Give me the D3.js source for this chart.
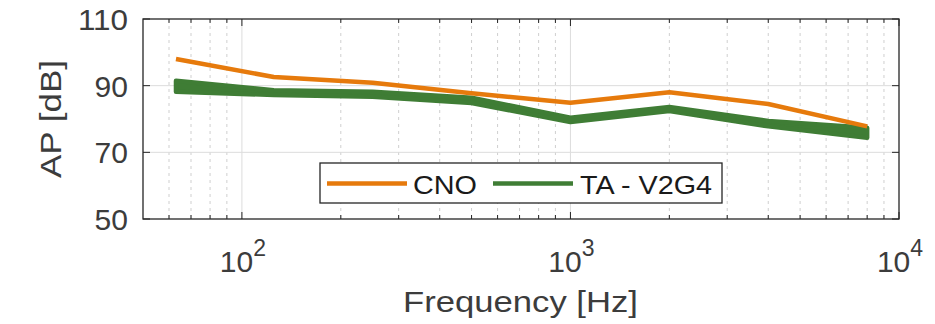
<!DOCTYPE html>
<html>
<head>
<meta charset="utf-8">
<script src="https://cdn.jsdelivr.net/npm/d3@7"></script>
<style>
  body { margin: 0; background: #fff; }
  svg { display: block; font-family: Arial, "Liberation Sans", Helvetica, sans-serif; }
</style>
</head>
<body>
<svg id="chart" width="935" height="324"></svg>
<script>
// octave band centres and measured levels
const freqs = [63, 125, 250, 500, 1000, 2000, 4000, 8000];
const cno = [98.0, 92.6, 90.9, 87.7, 84.9, 88.0, 84.5, 77.8];
const taHigh = [91.5, 88.6, 88.2, 86.4, 80.4, 83.6, 79.4, 77.4];
const taLow = [88.2, 87.2, 86.7, 84.8, 79.1, 82.4, 77.8, 74.4];
const seriesNames = ["CNO", "TA - V2G4"];
const yTicks = [50, 70, 90, 110];
const xTicks = [100, 1000, 10000];

const orange = "#e67a0c",
      green = "#3f7d35",
      axisColor = "#262626",
      textColor = "#3c3c3c";

const svg = d3.select("#chart");
const plotLeft = 143, plotRight = 899, plotTop = 19, plotBottom = 219;

const x = d3.scaleLog().domain([50, 10000]).range([plotLeft, plotRight]);
const y = d3.scaleLinear().domain([50, 110]).range([plotBottom, plotTop]);

// minor log ticks (2..9 of every decade inside the domain)
let minor = [];
[10, 100, 1000].forEach(dec => {
  for (let m = 2; m <= 9; m++) {
    let v = dec * m;
    if (v > 50 && v < 10000) minor.push(v);
  }
});
minor = minor.filter(v => !xTicks.includes(v));

const grid = svg.append("g");

grid.selectAll(".minor")
  .data(minor)
  .enter().append("line")
  .attr("x1", d => x(d)).attr("x2", d => x(d))
  .attr("y1", plotTop).attr("y2", plotBottom)
  .attr("stroke", "#cfcfcf")
  .attr("stroke-width", 1)
  .attr("stroke-dasharray", "3,4");

grid.selectAll(".xmajor")
  .data(xTicks.filter(d => d < 10000))
  .enter().append("line")
  .attr("x1", d => x(d)).attr("x2", d => x(d))
  .attr("y1", plotTop).attr("y2", plotBottom)
  .attr("stroke", "#dcdcdc")
  .attr("stroke-width", 1);

grid.selectAll(".ymajor")
  .data(yTicks.slice(1, -1))
  .enter().append("line")
  .attr("x1", plotLeft).attr("x2", plotRight)
  .attr("y1", d => y(d)).attr("y2", d => y(d))
  .attr("stroke", "#dcdcdc")
  .attr("stroke-width", 1);

// green band: spread between the TA lines
const band = d3.area()
  .x((d, i) => x(freqs[i]))
  .y0((d, i) => y(taLow[i]))
  .y1((d, i) => y(taHigh[i]));

svg.append("path")
  .datum(freqs)
  .attr("d", band)
  .attr("fill", green)
  .attr("stroke", green)
  .attr("stroke-width", 4.5)
  .attr("stroke-linejoin", "round");

const line = d3.line()
  .x((d, i) => x(freqs[i]))
  .y(d => y(d));

svg.append("path")
  .datum(cno)
  .attr("d", line)
  .attr("fill", "none")
  .attr("stroke", orange)
  .attr("stroke-width", 4.5)
  .attr("stroke-linejoin", "round");

// axes box
svg.append("rect")
  .attr("x", plotLeft).attr("y", plotTop)
  .attr("width", plotRight - plotLeft).attr("height", plotBottom - plotTop)
  .attr("fill", "none")
  .attr("stroke", axisColor)
  .attr("stroke-width", 1.3);

const ticks = svg.append("g").attr("stroke", axisColor).attr("stroke-width", 1);

yTicks.forEach(t => {
  ticks.append("line").attr("x1", plotLeft).attr("x2", plotLeft + 7).attr("y1", y(t)).attr("y2", y(t));
  ticks.append("line").attr("x1", plotRight).attr("x2", plotRight - 7).attr("y1", y(t)).attr("y2", y(t));
});
xTicks.forEach(t => {
  ticks.append("line").attr("x1", x(t)).attr("x2", x(t)).attr("y1", plotBottom).attr("y2", plotBottom - 7);
  ticks.append("line").attr("x1", x(t)).attr("x2", x(t)).attr("y1", plotTop).attr("y2", plotTop + 7);
});
minor.forEach(t => {
  ticks.append("line").attr("x1", x(t)).attr("x2", x(t)).attr("y1", plotBottom).attr("y2", plotBottom - 4);
  ticks.append("line").attr("x1", x(t)).attr("x2", x(t)).attr("y1", plotTop).attr("y2", plotTop + 4);
});

// tick labels
svg.selectAll(".ylab")
  .data(yTicks)
  .enter().append("text")
  .attr("x", plotLeft - 15)
  .attr("y", d => y(d) + 11)
  .attr("text-anchor", "end")
  .attr("font-size", 30)
  .attr("fill", textColor)
  .attr("textLength", d => String(d).length * 16.7)
  .attr("lengthAdjust", "spacingAndGlyphs")
  .text(d => d);

const xl = svg.selectAll(".xlab")
  .data(xTicks)
  .enter().append("text")
  .attr("x", d => x(d) + 1)
  .attr("y", 272)
  .attr("text-anchor", "middle")
  .attr("font-size", 30)
  .attr("fill", textColor);
xl.append("tspan").text("10");
xl.append("tspan")
  .attr("font-size", 23)
  .attr("dy", -16)
  .text(d => Math.round(Math.log10(d)));

// axis titles
svg.append("text")
  .attr("x", 520.5).attr("y", 312)
  .attr("text-anchor", "middle")
  .attr("font-size", 30)
  .attr("fill", textColor)
  .attr("textLength", 235)
  .attr("lengthAdjust", "spacingAndGlyphs")
  .text("Frequency [Hz]");

svg.append("text")
  .attr("transform", "translate(61,119) rotate(-90)")
  .attr("text-anchor", "middle")
  .attr("font-size", 30)
  .attr("fill", textColor)
  .attr("textLength", 118)
  .attr("lengthAdjust", "spacingAndGlyphs")
  .text("AP [dB]");

// legend
const legend = svg.append("g");
legend.append("rect")
  .attr("x", 320).attr("y", 163)
  .attr("width", 402).attr("height", 40)
  .attr("fill", "#fff")
  .attr("stroke", axisColor)
  .attr("stroke-width", 1.3);

const items = [
  { name: seriesNames[0], color: orange, x0: 327, tx: 413, tl: 64 },
  { name: seriesNames[1], color: green, x0: 493, tx: 580, tl: 132 }
];
items.forEach(it => {
  legend.append("line")
    .attr("x1", it.x0).attr("x2", it.x0 + 80)
    .attr("y1", 183.5).attr("y2", 183.5)
    .attr("stroke", it.color)
    .attr("stroke-width", 4.5);
  legend.append("text")
    .attr("x", it.tx).attr("y", 193.5)
    .attr("font-size", 26)
    .attr("fill", "#1a1a1a")
    .attr("textLength", it.tl)
    .attr("lengthAdjust", "spacingAndGlyphs")
    .text(it.name);
});
</script>
</body>
</html>
